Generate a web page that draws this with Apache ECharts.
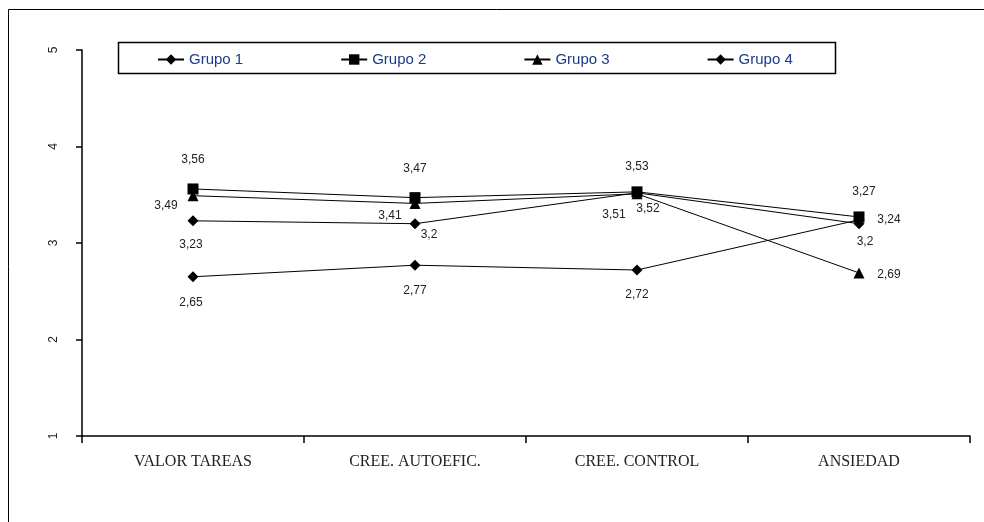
<!DOCTYPE html>
<html>
<head>
<meta charset="utf-8">
<script src="https://cdn.jsdelivr.net/npm/echarts@6/dist/echarts.min.js"></script>
<style>html,body{margin:0;padding:0;background:#fff;}#c{width:984px;height:522px;}</style>
</head>
<body>
<div id="c"></div>
<script>
var categories = ['VALOR TAREAS', 'CREE. AUTOEFIC.', 'CREE. CONTROL', 'ANSIEDAD'];
var seriesNames = ['Grupo 1', 'Grupo 2', 'Grupo 3', 'Grupo 4'];
var grupo1 = [3.23, 3.2, 3.52, 3.2];
var grupo2 = [3.56, 3.47, 3.53, 3.27];
var grupo3 = [3.49, 3.41, 3.51, 2.69];
var grupo4 = [2.65, 2.77, 2.72, 3.24];
var yTicks = [1, 2, 3, 4, 5];

// label offsets (style only)
var offsets1 = [[-2, 24], [14, 11], [11, 16], [6, 18]];
var offsets2 = [[0, -29], [0, -29], [0, -25], [5, -25]];
var offsets3 = [[-27, 10], [-25, 12], [-23, 21], [30, 2]];
var offsets4 = [[-2, 26], [0, 25], [0, 25], [30, 0]];

function fmt(v) { return String(v).replace('.', ','); }

function mk(name, values, offs, symbol, size) {
  return {
    name: name,
    type: 'line',
    symbol: symbol,
    symbolSize: size,
    showAllSymbol: true,
    lineStyle: { color: '#000', width: 1 },
    itemStyle: { color: '#000' },
    emphasis: { disabled: true },
    animation: false,
    data: values.map(function (v, i) {
      return {
        value: v,
        label: {
          show: true,
          position: 'inside',
          offset: offs[i],
          formatter: function (p) { return fmt(p.value); },
          color: '#222',
          fontFamily: 'Liberation Sans',
          fontSize: 12
        }
      };
    })
  };
}

var chart = echarts.init(document.getElementById('c'), null, { renderer: 'canvas' });
chart.setOption({
  animation: false,
  backgroundColor: '#fff',
  graphic: [
    { type: 'rect', shape: { x: 8.5, y: 9.5, width: 1000, height: 600 }, style: { fill: 'none', stroke: '#000', lineWidth: 1 }, silent: true },
    { type: 'rect', shape: { x: 118.5, y: 42.5, width: 717, height: 31 }, style: { fill: '#fff', stroke: '#000', lineWidth: 1.5 }, silent: true, z: 0 }
  ],
  legend: {
    data: seriesNames,
    left: 152,
    top: 47,
    itemWidth: 26,
    itemHeight: 13,
    itemGap: 97,
    textStyle: { color: '#1a3a8a', fontFamily: 'Liberation Sans', fontSize: 15 },
    z: 5
  },
  grid: { left: 82, right: 14, top: 50, bottom: 86, containLabel: false },
  xAxis: {
    type: 'category',
    data: categories,
    boundaryGap: true,
    axisLine: { lineStyle: { color: '#000', width: 1.5 } },
    axisTick: { show: true, length: 7, lineStyle: { color: '#000', width: 1.5 } },
    axisLabel: { color: '#222', fontFamily: 'Liberation Serif', fontSize: 16, margin: 18 },
    splitLine: { show: false }
  },
  yAxis: {
    type: 'value',
    min: yTicks[0],
    max: yTicks[yTicks.length - 1],
    interval: 1,
    axisLine: { show: true, lineStyle: { color: '#000', width: 1.5 } },
    axisTick: { show: true, length: 6, lineStyle: { color: '#000', width: 1.5 } },
    axisLabel: { color: '#222', fontFamily: 'Liberation Sans', fontSize: 12, rotate: 90, margin: 22 },
    splitLine: { show: false }
  },
  series: [
    mk(seriesNames[0], grupo1, offsets1, 'diamond', 11),
    mk(seriesNames[1], grupo2, offsets2, 'rect', 11),
    mk(seriesNames[2], grupo3, offsets3, 'triangle', 11),
    mk(seriesNames[3], grupo4, offsets4, 'diamond', 11)
  ]
});
</script>
</body>
</html>
